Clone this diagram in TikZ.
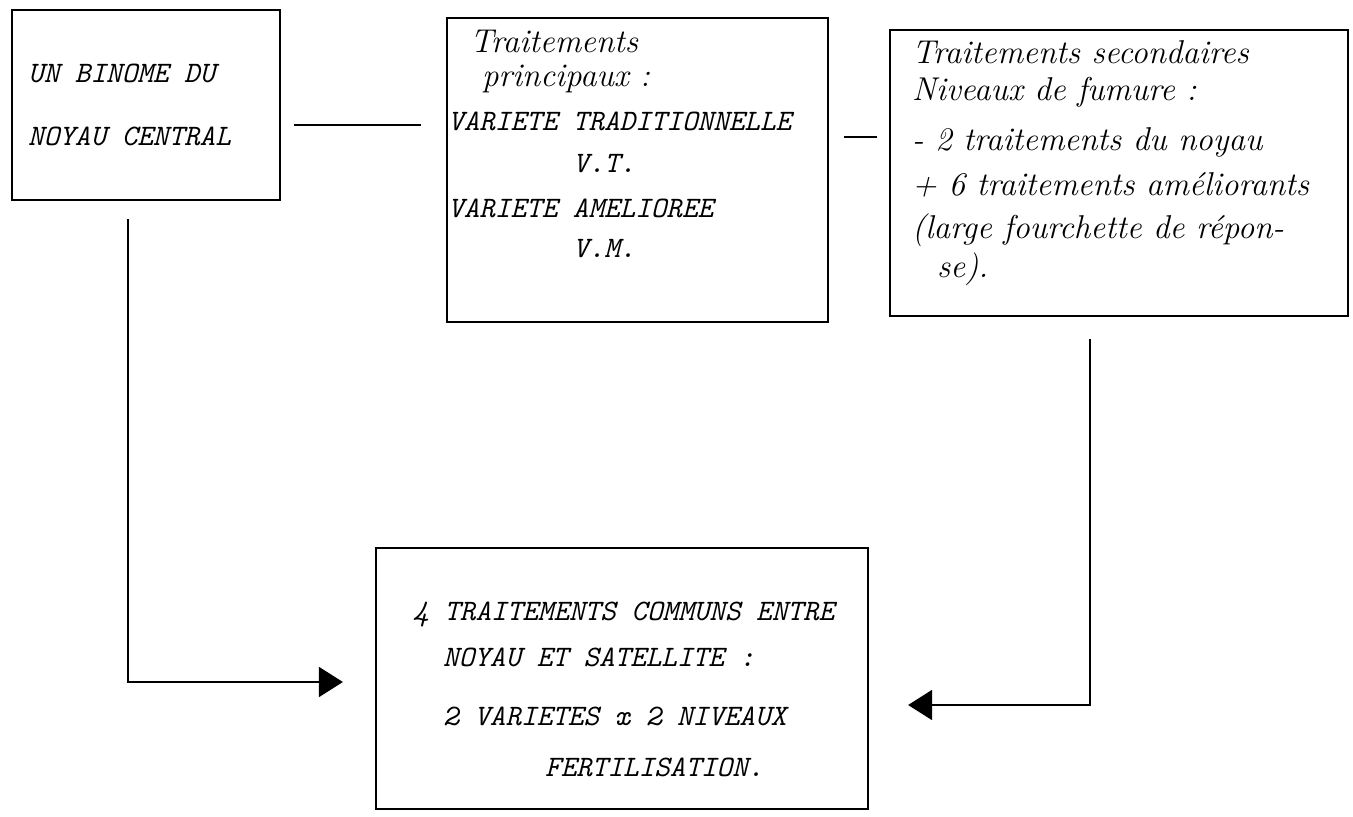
\documentclass[tikz,border=0pt]{standalone}
\usepackage{fontspec}
\usetikzlibrary{arrows.meta,calc}
\begin{document}
\begin{tikzpicture}[x=1pt,y=-1pt,
  box/.style={draw, line width=2.2pt, inner sep=0pt},
  caps/.style={anchor=base west, inner sep=0pt,
    font=\fontsize{29.7}{34}\selectfont\ttfamily\itshape},
  hand/.style={anchor=base west, inner sep=0pt,
    font=\fontsize{33}{38}\selectfont\itshape},
  link/.style={line width=1.8pt},
  feed/.style={line width=1.8pt, -{Triangle[length=24pt,width=30pt]}}]
\useasboundingbox (0,0) rectangle (1353,817);

% frames
\node[box, minimum width=268pt, minimum height=190pt] (binome) at (146,105) {};
\node[box, minimum width=381pt, minimum height=304pt] (principal) at (637.5,170) {};
\node[box, minimum width=458pt, minimum height=286pt] (secondaire) at (1119,173) {};
\node[box, minimum width=492pt, minimum height=261pt] (commun) at (622,678.5) {};

% core pair
\node[caps] (b1) at (28,82) {UN BINOME DU};
\node[caps] (b2) at (28,145) {NOYAU CENTRAL};

% main treatments
\node[hand] (p1) at (470,52) {Traitements};
\node[hand] (p2) at (482,86) {principaux :};
\node[caps] (p3) at (448,130) {VARIETE TRADITIONNELLE};
\node[caps] (p4) at (573,172) {V.T.};
\node[caps] (p5) at (448,217) {VARIETE AMELIOREE};
\node[caps] (p6) at (573,257) {V.M.};

% secondary treatments
\node[hand] (s1) at (912,63) {Traitements secondaires};
\node[hand] (s2) at (912,100) {Niveaux de fumure :};
\node[hand] (s3) at (912,150) {- 2 traitements du noyau};
\node[hand] (s4) at (912,195) {+ 6 traitements améliorants};
\node[hand] (s5) at (912,238) {(large fourchette de répon-};
\node[hand] (s6) at (937,277) {se).};

% common treatments
\node[caps] (c1) at (413,620) {4 TRAITEMENTS COMMUNS ENTRE};
\node[caps] (c2) at (443,666) {NOYAU ET SATELLITE :};
\node[caps] (c3) at (443,725) {2 VARIETES x 2 NIVEAUX};
\node[caps] (c4) at (545,776) {FERTILISATION.};

% connectors
\draw[link] ([shift={(13,20)}]binome.east) -- ([shift={(-25,-45)}]principal.west);
\draw[link] ([shift={(15,-33)}]principal.east) -- ([shift={(-12,-36)}]secondaire.west);
\draw[feed] ([shift={(-18,18)}]binome.south) |- ([shift={(-32,3.5)}]commun.west);
\draw[feed] ([shift={(-29,22)}]secondaire.south) |- ([shift={(39,26.5)}]commun.east);
\end{tikzpicture}
\end{document}
